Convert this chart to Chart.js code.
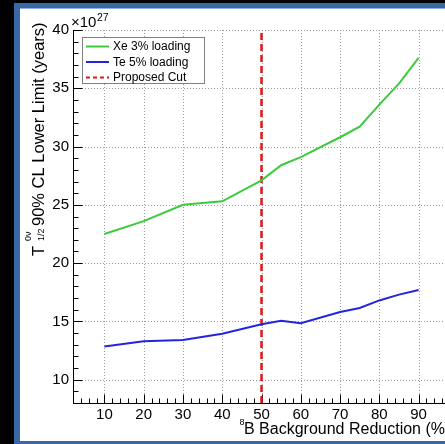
<!DOCTYPE html>
<html>
<head>
<meta charset="utf-8">
<script src="https://cdn.jsdelivr.net/npm/chart.js@4.4.1/dist/chart.umd.min.js"></script>
<style>
  html, body { margin: 0; padding: 0; width: 445px; height: 444px; overflow: hidden; background: #000; }
  #frame { position: absolute; left: 14px; top: 3px; width: 470px; height: 441px; background: #3a67a6; }
  #panel { position: absolute; left: 20px; top: 9px; width: 450px; height: 432px; background: #fff; box-shadow: 0 -1px 0 #8fb0dc; }
  canvas { display: block; }
</style>
</head>
<body>
<div id="frame"></div>
<div id="panel"><canvas id="c" width="450" height="432"></canvas></div>
<script>
// Background reduction (%) at which each limit was evaluated
const reduction = [10, 20, 30, 40, 50, 55, 60, 70, 75, 80, 85, 90];
// 90% CL lower limits on T1/2 (units of 1e27 years)
const xeLimit = [22.5, 23.6, 25.0, 25.3, 27.1, 28.4, 29.1, 30.8, 31.7, 33.6, 35.4, 37.6];
const teLimit = [12.85, 13.3, 13.4, 13.95, 14.75, 15.05, 14.85, 15.8, 16.15, 16.8, 17.3, 17.7];
// Proposed cut position (%)
const cutReduction = 50;
// Axis ranges and labelled ticks
const xRange = [2, 98];
const yRange = [8, 40];
const xTickLabels = [10, 20, 30, 40, 50, 60, 70, 80, 90];
const yTickLabels = [10, 15, 20, 25, 30, 35, 40];
const xMinorStep = 2;
const yMinorStep = 1;

const FONT = '"Liberation Sans", Arial, Helvetica, sans-serif';

const pts = (xs, ys) => xs.map((x, i) => ({ x, y: ys[i] }));

// ROOT-style frame: dotted grid, solid axes, inward tick marks, legend, titles
const rootFrame = {
  id: 'rootFrame',
  beforeDatasetsDraw(chart) {
    const { ctx, chartArea: a, scales: { x, y } } = chart;
    ctx.save();
    // dotted grid at labelled ticks
    ctx.strokeStyle = '#9a9a9a';
    ctx.lineWidth = 1;
    ctx.setLineDash([1, 2]);
    ctx.beginPath();
    xTickLabels.forEach(v => {
      const px = Math.round(x.getPixelForValue(v)) + 0.5;
      ctx.moveTo(px, a.top); ctx.lineTo(px, a.bottom);
    });
    yTickLabels.forEach(v => {
      const py = Math.round(y.getPixelForValue(v)) + 0.5;
      ctx.moveTo(a.left, py); ctx.lineTo(a.right, py);
    });
    ctx.stroke();
    ctx.setLineDash([]);

    // axis lines
    ctx.strokeStyle = '#000';
    ctx.beginPath();
    const bx = Math.round(a.left) + 0.5, by = Math.round(a.bottom) + 0.5;
    ctx.moveTo(bx, a.top); ctx.lineTo(bx, by); ctx.lineTo(a.right, by);
    ctx.stroke();

    // tick marks pointing into the frame
    ctx.beginPath();
    for (let v = xRange[0]; v <= xRange[1] + 1e-9; v += xMinorStep) {
      const major = xTickLabels.includes(Math.round(v));
      const px = Math.round(x.getPixelForValue(v)) + 0.5;
      ctx.moveTo(px, by); ctx.lineTo(px, by - (major ? 9 : 5));
    }
    for (let v = yRange[0]; v <= yRange[1] + 1e-9; v += yMinorStep) {
      const major = yTickLabels.includes(Math.round(v));
      const py = Math.round(y.getPixelForValue(v)) + 0.5;
      ctx.moveTo(bx, py); ctx.lineTo(bx + (major ? 9 : 5), py);
    }
    ctx.stroke();
    ctx.restore();
  },
  afterDraw(chart) {
    const { ctx, chartArea: a } = chart;
    ctx.save();
    ctx.fillStyle = '#000';
    ctx.textAlign = 'left';
    ctx.textBaseline = 'alphabetic';

    // exponent label above the y axis
    ctx.font = `15px ${FONT}`;
    ctx.fillText('\u00d710', a.left - 2, a.top - 3);
    const w10 = ctx.measureText('\u00d710').width;
    ctx.font = `10.5px ${FONT}`;
    ctx.fillText('27', a.left - 2 + w10 + 0.5, a.top - 9);

    // y axis title, rotated
    ctx.save();
    ctx.translate(23.5, 247);
    ctx.rotate(-Math.PI / 2);
    ctx.font = `16.5px ${FONT}`;
    ctx.fillText('T', 0, 0);
    ctx.font = `9px ${FONT}`;
    ctx.fillText('0\u03bd', 15, -12.5);
    ctx.fillText('1/2', 15, 0);
    ctx.font = `16.5px ${FONT}`;
    ctx.fillText('90% CL Lower Limit (years)', 30, 0);
    ctx.restore();

    // x axis title
    ctx.font = `9px ${FONT}`;
    ctx.fillText('8', 219.5, 416);
    ctx.font = `16px ${FONT}`;
    ctx.fillText('B Background Reduction (%)', 224, 425);

    // legend box
    const lx = a.left + 9, ly = a.top + 7, lw = 122, lh = 46;
    ctx.fillStyle = '#fff';
    ctx.fillRect(lx, ly, lw, lh);
    ctx.strokeStyle = '#808080';
    ctx.lineWidth = 1;
    ctx.strokeRect(lx + 0.5, ly + 0.5, lw, lh);
    ctx.font = `12px ${FONT}`;
    ctx.textBaseline = 'middle';
    chart.data.datasets.forEach((ds, i) => {
      const cy = ly + 9.5 + i * 15.5;
      ctx.strokeStyle = ds.borderColor;
      ctx.lineWidth = 2;
      ctx.setLineDash(ds.borderDash ? [4, 3] : []);
      ctx.beginPath();
      ctx.moveTo(lx + 4, cy); ctx.lineTo(lx + 27, cy);
      ctx.stroke();
      ctx.setLineDash([]);
      ctx.fillStyle = '#000';
      ctx.fillText(ds.label, lx + 31, cy + 0.5);
    });
    ctx.restore();
  }
};

new Chart(document.getElementById('c'), {
  type: 'line',
  data: {
    datasets: [
      { label: 'Xe 3% loading', data: pts(reduction, xeLimit), borderColor: '#3ccb3c', borderWidth: 2 },
      { label: 'Te 5% loading', data: pts(reduction, teLimit), borderColor: '#2424e0', borderWidth: 2 },
      { label: 'Proposed Cut', data: [{ x: cutReduction, y: yRange[0] }, { x: cutReduction, y: yRange[1] }],
        borderColor: '#e01818', borderWidth: 2.5, borderDash: [7, 4] }
    ]
  },
  options: {
    responsive: false,
    animation: false,
    layout: { padding: { left: 0, top: 21, right: 20, bottom: 0 } },
    elements: { point: { radius: 0 }, line: { tension: 0, fill: false } },
    plugins: { legend: { display: false }, tooltip: { enabled: false } },
    scales: {
      x: {
        type: 'linear', min: xRange[0], max: xRange[1],
        afterBuildTicks: s => { s.ticks = xTickLabels.map(v => ({ value: v })); },
        afterFit: s => { s.height = 38; },
        grid: { display: false, drawTicks: false },
        border: { display: false },
        ticks: { padding: 3, color: '#000', maxRotation: 0, autoSkip: false, font: { family: FONT, size: 15 } }
      },
      y: {
        type: 'linear', min: yRange[0], max: yRange[1],
        afterBuildTicks: s => { s.ticks = yTickLabels.map(v => ({ value: v })); },
        afterFit: s => { s.width = 53; },
        grid: { display: false, drawTicks: false },
        border: { display: false },
        ticks: { padding: 4, color: '#000', autoSkip: false, font: { family: FONT, size: 15 } }
      }
    }
  },
  plugins: [rootFrame]
});
</script>
</body>
</html>
